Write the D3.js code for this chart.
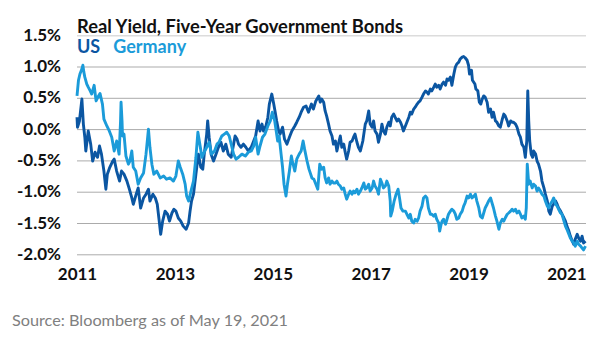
<!DOCTYPE html>
<html>
<head>
<meta charset="utf-8">
<script src="https://cdn.jsdelivr.net/npm/d3@7"></script>
<style>
  body { margin: 0; background: #fff; }
  svg { display: block; font-family: Lato, "Open Sans", sans-serif; }
</style>
</head>
<body>
<svg id="chart"></svg>
<script>
// values: [decimal year, real yield %]
const yTicks = [-2, -1.5, -1, -0.5, 0, 0.5, 1, 1.5];
const xTicks = [2011, 2013, 2015, 2017, 2019, 2021];
const seriesNames = ['US', 'Germany'];

const usData = [
  [2011.00,0.19],[2011.01,0.03],[2011.05,0.13],[2011.10,0.48],[2011.13,0.08],[2011.16,-0.13],[2011.18,-0.35],
  [2011.23,-0.03],[2011.28,-0.24],[2011.32,-0.51],[2011.37,-0.37],[2011.42,-0.45],[2011.46,-0.27],[2011.50,-0.40],
  [2011.55,-0.67],[2011.59,-0.96],[2011.62,-0.72],[2011.67,-0.61],[2011.73,-0.51],[2011.76,-0.48],[2011.81,-0.67],
  [2011.87,-0.83],[2011.91,-0.67],[2011.96,-0.72],[2012.02,-0.83],[2012.07,-0.96],[2012.12,-1.10],[2012.15,-1.20],
  [2012.21,-1.04],[2012.25,-0.94],[2012.30,-1.26],[2012.36,-1.10],[2012.41,-1.04],[2012.46,-0.96],[2012.49,-1.15],
  [2012.55,-1.04],[2012.60,-1.10],[2012.64,-1.20],[2012.68,-1.47],[2012.71,-1.68],[2012.75,-1.47],[2012.80,-1.31],
  [2012.85,-1.36],[2012.89,-1.47],[2012.94,-1.34],[2012.98,-1.28],[2013.02,-1.31],[2013.07,-1.42],[2013.12,-1.47],
  [2013.17,-1.55],[2013.23,-1.60],[2013.28,-1.50],[2013.31,-1.31],[2013.34,-1.15],[2013.38,-1.04],[2013.43,-0.72],
  [2013.48,-0.40],[2013.53,-0.61],[2013.57,-0.64],[2013.60,-0.40],[2013.65,-0.08],[2013.67,0.13],[2013.70,-0.13],
  [2013.74,-0.40],[2013.79,-0.51],[2013.84,-0.40],[2013.89,-0.29],[2013.94,-0.21],[2013.99,-0.35],[2014.04,-0.24],
  [2014.09,-0.40],[2014.15,-0.45],[2014.20,-0.24],[2014.23,-0.11],[2014.27,-0.16],[2014.30,-0.24],[2014.35,-0.29],
  [2014.40,-0.24],[2014.45,-0.29],[2014.50,-0.35],[2014.56,-0.29],[2014.61,-0.19],[2014.65,-0.11],[2014.70,0.13],
  [2014.74,-0.03],[2014.78,0.08],[2014.81,-0.03],[2014.86,0.05],[2014.90,0.19],[2014.93,0.40],[2014.98,0.56],
  [2015.02,0.40],[2015.05,0.27],[2015.08,0.13],[2015.12,-0.03],[2015.15,-0.08],[2015.20,0.03],[2015.24,-0.16],
  [2015.29,-0.24],[2015.34,-0.13],[2015.39,-0.03],[2015.45,0.05],[2015.49,0.11],[2015.54,0.19],[2015.58,0.27],
  [2015.63,0.35],[2015.68,0.37],[2015.73,0.27],[2015.79,0.40],[2015.83,0.32],[2015.88,0.45],[2015.94,0.53],
  [2015.97,0.43],[2016.00,0.48],[2016.04,0.43],[2016.07,0.29],[2016.10,0.21],[2016.14,0.08],[2016.17,-0.03],
  [2016.21,-0.11],[2016.24,-0.24],[2016.28,-0.19],[2016.31,-0.35],[2016.34,-0.24],[2016.38,-0.11],[2016.41,-0.29],
  [2016.45,-0.24],[2016.48,-0.37],[2016.51,-0.48],[2016.55,-0.35],[2016.58,-0.21],[2016.62,-0.19],[2016.65,-0.13],
  [2016.68,-0.08],[2016.72,-0.21],[2016.75,-0.29],[2016.79,-0.35],[2016.84,-0.19],[2016.89,0.08],[2016.92,0.13],
  [2016.96,0.29],[2016.99,0.08],[2017.03,0.03],[2017.06,0.13],[2017.09,-0.03],[2017.13,-0.08],[2017.16,-0.21],
  [2017.20,-0.08],[2017.23,0.08],[2017.26,-0.03],[2017.30,-0.08],[2017.33,0.03],[2017.37,0.11],[2017.40,0.05],
  [2017.43,0.19],[2017.47,0.24],[2017.50,0.19],[2017.54,0.13],[2017.57,0.16],[2017.61,0.11],[2017.64,0.05],
  [2017.67,-0.03],[2017.71,0.05],[2017.74,0.11],[2017.78,0.19],[2017.81,0.27],[2017.84,0.24],[2017.88,0.32],
  [2017.91,0.35],[2017.95,0.40],[2017.98,0.43],[2018.01,0.45],[2018.05,0.51],[2018.08,0.56],[2018.12,0.61],
  [2018.15,0.59],[2018.18,0.56],[2018.22,0.64],[2018.25,0.61],[2018.29,0.67],[2018.32,0.72],[2018.35,0.67],
  [2018.39,0.70],[2018.42,0.64],[2018.46,0.72],[2018.49,0.75],[2018.53,0.70],[2018.56,0.80],[2018.59,0.78],
  [2018.63,0.83],[2018.66,0.70],[2018.70,0.88],[2018.73,0.99],[2018.76,1.04],[2018.80,1.07],[2018.83,1.12],
  [2018.87,1.15],[2018.90,1.16],[2018.93,1.14],[2018.97,1.10],[2019.00,1.02],[2019.02,0.88],[2019.06,0.94],
  [2019.08,0.78],[2019.13,0.72],[2019.15,0.64],[2019.19,0.61],[2019.22,0.43],[2019.25,0.40],[2019.28,0.48],
  [2019.31,0.53],[2019.34,0.51],[2019.38,0.43],[2019.41,0.27],[2019.45,0.32],[2019.48,0.19],[2019.51,0.27],
  [2019.55,0.13],[2019.58,0.11],[2019.62,0.05],[2019.65,0.03],[2019.69,0.16],[2019.72,0.24],[2019.75,0.21],
  [2019.79,0.13],[2019.82,0.05],[2019.86,0.13],[2019.89,0.11],[2019.92,0.11],[2019.96,0.08],[2019.99,0.03],
  [2020.03,-0.08],[2020.06,-0.13],[2020.09,-0.24],[2020.13,-0.29],[2020.16,-0.45],[2020.19,-0.19],[2020.21,0.61],
  [2020.23,0.13],[2020.25,-0.19],[2020.28,-0.40],[2020.31,-0.45],[2020.33,-0.35],[2020.37,-0.40],[2020.40,-0.51],
  [2020.43,-0.56],[2020.47,-0.67],[2020.50,-0.83],[2020.54,-0.94],[2020.57,-1.04],[2020.61,-1.15],[2020.64,-1.31],
  [2020.67,-1.36],[2020.71,-1.23],[2020.74,-1.20],[2020.78,-1.15],[2020.81,-1.20],[2020.84,-1.26],[2020.88,-1.31],
  [2020.91,-1.36],[2020.95,-1.42],[2020.98,-1.47],[2021.01,-1.55],[2021.05,-1.63],[2021.08,-1.71],[2021.12,-1.79],
  [2021.15,-1.84],[2021.18,-1.76],[2021.22,-1.68],[2021.25,-1.74],[2021.29,-1.79],[2021.32,-1.71],[2021.35,-1.82],
  [2021.39,-1.79]
];

const germanyData = [
  [2011.00,0.53],[2011.03,0.78],[2011.06,0.88],[2011.10,0.96],[2011.12,1.02],[2011.14,0.91],[2011.16,0.83],
  [2011.20,0.72],[2011.23,0.67],[2011.27,0.61],[2011.30,0.56],[2011.35,0.70],[2011.39,0.45],[2011.44,0.53],
  [2011.47,0.57],[2011.52,0.40],[2011.55,0.16],[2011.61,0.05],[2011.66,-0.03],[2011.71,-0.13],[2011.76,-0.35],
  [2011.81,-0.19],[2011.86,-0.40],[2011.89,0.13],[2011.90,0.43],[2011.92,0.13],[2011.93,-0.11],[2011.96,-0.08],
  [2012.00,-0.43],[2012.05,-0.56],[2012.08,-0.51],[2012.12,-0.35],[2012.15,-0.61],[2012.20,-0.67],[2012.25,-0.88],
  [2012.30,-0.78],[2012.36,-0.70],[2012.41,-0.40],[2012.46,0.00],[2012.49,-0.29],[2012.53,-0.56],[2012.57,-0.72],
  [2012.63,-0.67],[2012.70,-0.78],[2012.77,-0.75],[2012.83,-0.80],[2012.90,-0.78],[2012.97,-0.83],[2013.02,-0.75],
  [2013.07,-0.51],[2013.11,-0.61],[2013.16,-0.72],[2013.21,-0.88],[2013.24,-1.07],[2013.28,-1.15],[2013.32,-1.02],
  [2013.38,-0.83],[2013.43,-0.45],[2013.47,-0.05],[2013.52,-0.29],[2013.55,-0.45],[2013.58,-0.40],[2013.65,-0.29],
  [2013.70,-0.21],[2013.75,-0.40],[2013.81,-0.35],[2013.86,-0.24],[2013.90,-0.21],[2013.96,-0.11],[2014.01,-0.08],
  [2014.06,-0.05],[2014.11,-0.11],[2014.15,-0.24],[2014.20,-0.40],[2014.25,-0.48],[2014.30,-0.45],[2014.37,-0.40],
  [2014.44,-0.43],[2014.50,-0.37],[2014.56,-0.35],[2014.61,-0.27],[2014.65,-0.13],[2014.70,-0.40],[2014.74,-0.27],
  [2014.79,-0.13],[2014.84,-0.08],[2014.90,0.05],[2014.95,0.13],[2014.99,0.27],[2015.04,0.13],[2015.07,-0.03],
  [2015.10,-0.19],[2015.13,-0.11],[2015.17,-0.40],[2015.20,-0.61],[2015.23,-0.88],[2015.27,-1.07],[2015.30,-0.88],
  [2015.34,-0.67],[2015.38,-0.43],[2015.40,-0.51],[2015.45,-0.67],[2015.49,-0.48],[2015.54,-0.40],[2015.58,-0.35],
  [2015.62,-0.19],[2015.65,-0.32],[2015.70,-0.51],[2015.74,-0.64],[2015.80,-0.78],[2015.84,-0.80],[2015.88,-0.88],
  [2015.92,-0.96],[2015.96,-0.56],[2016.00,-0.64],[2016.04,-0.61],[2016.07,-0.78],[2016.10,-0.86],[2016.14,-0.78],
  [2016.17,-0.88],[2016.21,-0.83],[2016.24,-0.86],[2016.28,-0.86],[2016.31,-0.83],[2016.34,-0.88],[2016.38,-0.91],
  [2016.41,-0.96],[2016.45,-0.94],[2016.48,-1.04],[2016.51,-1.12],[2016.55,-1.04],[2016.58,-0.99],[2016.62,-1.04],
  [2016.65,-0.99],[2016.68,-1.02],[2016.72,-0.96],[2016.75,-1.04],[2016.79,-0.99],[2016.82,-0.94],[2016.86,-0.86],
  [2016.89,-0.96],[2016.92,-0.94],[2016.96,-0.88],[2016.99,-0.99],[2017.03,-0.94],[2017.06,-0.83],[2017.09,-0.91],
  [2017.13,-0.96],[2017.16,-1.04],[2017.20,-0.80],[2017.23,-0.86],[2017.26,-0.94],[2017.30,-0.91],[2017.33,-0.83],
  [2017.37,-0.91],[2017.40,-1.15],[2017.41,-1.39],[2017.44,-1.31],[2017.48,-1.15],[2017.52,-1.04],[2017.56,-0.96],
  [2017.59,-1.10],[2017.62,-1.26],[2017.66,-1.31],[2017.71,-1.31],[2017.74,-1.36],[2017.78,-1.42],[2017.81,-1.36],
  [2017.84,-1.47],[2017.88,-1.50],[2017.91,-1.44],[2017.95,-1.47],[2017.98,-1.42],[2018.01,-1.31],[2018.05,-1.23],
  [2018.08,-1.10],[2018.12,-1.07],[2018.15,-1.10],[2018.18,-1.26],[2018.22,-1.36],[2018.25,-1.36],[2018.29,-1.39],
  [2018.32,-1.36],[2018.35,-1.44],[2018.39,-1.50],[2018.41,-1.63],[2018.44,-1.52],[2018.46,-1.47],[2018.49,-1.44],
  [2018.53,-1.52],[2018.59,-1.36],[2018.63,-1.31],[2018.66,-1.28],[2018.70,-1.31],[2018.73,-1.36],[2018.76,-1.44],
  [2018.80,-1.42],[2018.83,-1.36],[2018.87,-1.31],[2018.90,-1.23],[2018.93,-1.18],[2018.97,-1.07],[2019.00,-1.10],
  [2019.04,-1.04],[2019.07,-1.10],[2019.11,-1.07],[2019.14,-1.04],[2019.17,-1.15],[2019.21,-1.26],[2019.24,-1.39],
  [2019.28,-1.42],[2019.31,-1.34],[2019.34,-1.26],[2019.38,-1.20],[2019.41,-1.15],[2019.45,-1.10],[2019.48,-1.18],
  [2019.51,-1.26],[2019.55,-1.39],[2019.58,-1.47],[2019.62,-1.60],[2019.65,-1.50],[2019.69,-1.44],[2019.72,-1.47],
  [2019.75,-1.42],[2019.79,-1.36],[2019.82,-1.34],[2019.86,-1.31],[2019.89,-1.28],[2019.92,-1.31],[2019.96,-1.28],
  [2019.99,-1.34],[2020.03,-1.31],[2020.06,-1.36],[2020.09,-1.42],[2020.13,-1.39],[2020.16,-1.44],[2020.18,-1.26],
  [2020.20,-0.56],[2020.23,-0.88],[2020.26,-0.83],[2020.30,-0.94],[2020.33,-0.88],[2020.37,-0.91],[2020.40,-0.99],
  [2020.43,-0.94],[2020.47,-0.99],[2020.50,-1.04],[2020.54,-1.07],[2020.57,-1.15],[2020.61,-1.23],[2020.64,-1.26],
  [2020.67,-1.20],[2020.71,-1.15],[2020.74,-1.10],[2020.78,-1.20],[2020.81,-1.23],[2020.84,-1.28],[2020.88,-1.34],
  [2020.91,-1.36],[2020.95,-1.47],[2020.98,-1.55],[2021.01,-1.60],[2021.05,-1.68],[2021.08,-1.74],[2021.12,-1.79],
  [2021.15,-1.82],[2021.18,-1.87],[2021.22,-1.79],[2021.25,-1.84],[2021.29,-1.87],[2021.32,-1.90],[2021.35,-1.93],
  [2021.39,-1.87]
];

const colors = { US: '#0b56a2', Germany: '#1b9bd9' };

const width = 605;
const height = 341;

const svg = d3.select('#chart')
  .attr('width', width)
  .attr('height', height);

const x = d3.scaleLinear()
  .domain([2011, 2021.4])
  .range([77, 586]);

const y = d3.scaleLinear()
  .domain([-2, 1.5])
  .range([254.3, 35.2]);

// y axis with gridlines
svg.append('g')
  .attr('transform', `translate(${x.range()[0]},0)`)
  .call(d3.axisLeft(y)
    .tickValues(yTicks)
    .tickSize(-(x.range()[1] - x.range()[0]))
    .tickPadding(16)
    .tickFormat(d => d.toFixed(1) + '%'))
  .call(g => g.select('.domain').remove())
  .call(g => g.attr('font-family', null).attr('font-size', null))
  .call(g => g.selectAll('.tick line').attr('stroke', '#ababab').attr('stroke-width', 1))
  .call(g => g.selectAll('.tick').filter(d => d === 1.5).select('line')
    .attr('stroke', '#dcdcdc').attr('stroke-width', 1.5))
  .call(g => g.selectAll('.tick text')
    .attr('font-size', 17).attr('font-weight', 700).attr('fill', '#111').attr('dy', '0.3em'));

// x axis labels
svg.append('g')
  .attr('transform', `translate(0,${y.range()[0]})`)
  .call(d3.axisBottom(x)
    .tickValues(xTicks)
    .tickSize(0)
    .tickFormat(d3.format('d')))
  .call(g => g.select('.domain').remove())
  .call(g => g.attr('font-family', null).attr('font-size', null))
  .call(g => g.selectAll('.tick text')
    .attr('font-size', 17).attr('font-weight', 700).attr('fill', '#111')
    .attr('dy', null).attr('y', 26));

const line = d3.line()
  .x(d => x(d[0]))
  .y(d => y(d[1]));

const series = [
  { name: 'US', values: usData },
  { name: 'Germany', values: germanyData }
];

svg.selectAll('path.series')
  .data(series)
  .enter()
  .append('path')
  .attr('class', 'series')
  .attr('d', d => line(d.values))
  .attr('fill', 'none')
  .attr('stroke', d => colors[d.name])
  .attr('stroke-width', 2.9)
  .attr('stroke-linejoin', 'round');

// title + legend
svg.append('text')
  .attr('x', 77)
  .attr('y', 33)
  .attr('font-size', 18)
  .attr('font-weight', 700)
  .attr('fill', '#111')
  .attr('textLength', 326)
  .attr('lengthAdjust', 'spacingAndGlyphs')
  .text('Real Yield, Five-Year Government Bonds');

const legend = svg.append('text')
  .attr('x', 77)
  .attr('y', 53)
  .attr('font-size', 18)
  .attr('font-weight', 700);

seriesNames.forEach((name, i) => {
  legend.append('tspan')
    .attr('dx', i === 0 ? 0 : 13)
    .attr('fill', colors[name])
    .text(name);
});

svg.append('text')
  .attr('x', 12)
  .attr('y', 326)
  .attr('font-size', 16)
  .attr('fill', '#808080')
  .attr('textLength', 276)
  .attr('lengthAdjust', 'spacingAndGlyphs')
  .text('Source: Bloomberg as of May 19, 2021');
</script>
</body>
</html>
